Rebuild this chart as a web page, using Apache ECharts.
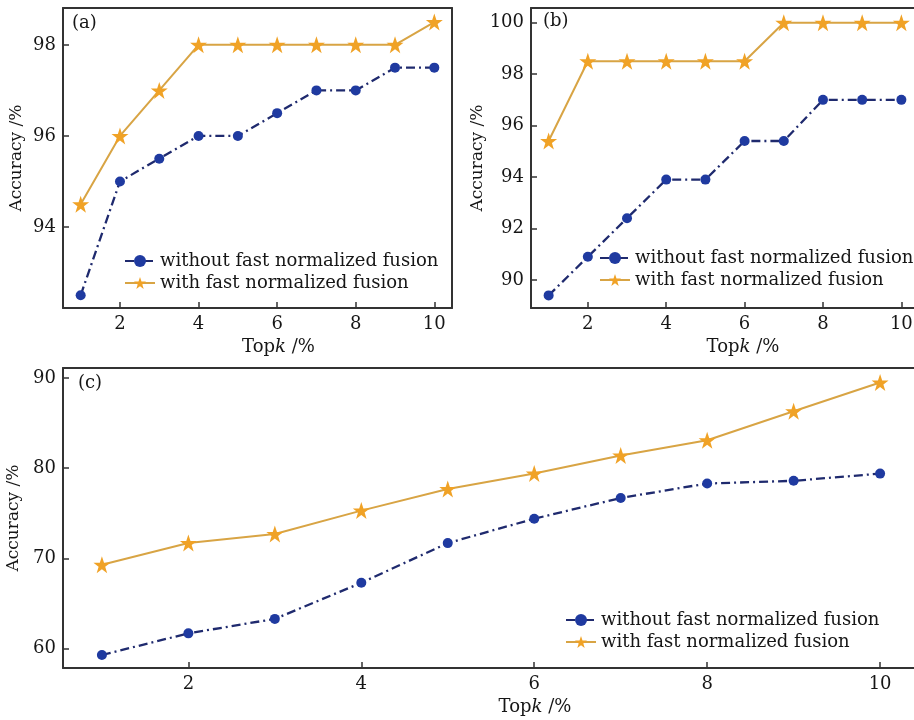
<!DOCTYPE html>
<html>
<head>
<meta charset="utf-8">
<script src="https://cdn.jsdelivr.net/npm/echarts@6/dist/echarts.min.js"></script>
<style>
html,body{margin:0;padding:0;background:#fff;}
#chart{width:914px;height:720px;}
</style>
</head>
<body>
<div id="chart"></div>
<script>
// Topk 取值
var topK = [1, 2, 3, 4, 5, 6, 7, 8, 9, 10];
var xTicks = [2, 4, 6, 8, 10];

// (a)
var aWithout = [92.5, 95.0, 95.5, 96.0, 96.0, 96.5, 97.0, 97.0, 97.5, 97.5];
var aWith = [94.5, 96.0, 97.0, 98.0, 98.0, 98.0, 98.0, 98.0, 98.0, 98.5];
var aTicks = [94, 96, 98];
// (b)
var bWithout = [89.4, 90.9, 92.4, 93.9, 93.9, 95.4, 95.4, 97.0, 97.0, 97.0];
var bWith = [95.4, 98.5, 98.5, 98.5, 98.5, 98.5, 100, 100, 100, 100];
var bTicks = [90, 92, 94, 96, 98, 100];
// (c)
var cWithout = [59.3, 61.7, 63.3, 67.3, 71.7, 74.4, 76.7, 78.3, 78.6, 79.4];
var cWith = [69.3, 71.7, 72.7, 75.3, 77.7, 79.4, 81.4, 83.1, 86.3, 89.5];
var cTicks = [60, 70, 80, 90];

var nameWithout = 'without fast normalized fusion';
var nameWith = 'with fast normalized fusion';

var font = 'DejaVu Serif';
var txt = '#161616';
var star = 'path://M50,0 L61.8,34.5 L97.6,34.5 L68.5,55.9 L79.4,90.5 L50,69 L20.6,90.5 L31.5,55.9 L2.4,34.5 L38.2,34.5 Z';

var myChart = echarts.init(document.getElementById('chart'));

function pairs(arr) {
    return topK.map(function (k, i) { return [k, arr[i]]; });
}

function xAxisOf(idx, shift) {
    return {
        type: 'value', gridIndex: idx, min: 0.55, max: 10.45,
        name: '{a|Top}{b|k}{a| /%}',
        nameLocation: 'middle', nameGap: 30,
        nameTextStyle: {
            padding: [0, 0, 0, shift],
            rich: {
                a: {fontFamily: font, fontSize: 18, color: txt},
                b: {fontFamily: font, fontSize: 18, color: txt, fontStyle: 'italic'}
            }
        },
        axisLine: {show: true, lineStyle: {color: '#333', width: 2}},
        axisTick: {show: true, inside: true, length: 6, customValues: xTicks, lineStyle: {color: '#333', width: 1.5}},
        axisLabel: {customValues: xTicks, fontFamily: font, fontSize: 18, color: txt, margin: 7},
        splitLine: {show: false}
    };
}

// 顶部边框线
function topAxisOf(idx) {
    return {
        type: 'value', gridIndex: idx, position: 'top', min: 0.55, max: 10.45,
        axisLine: {show: true, lineStyle: {color: '#333', width: 2}},
        axisTick: {show: false}, axisLabel: {show: false}, splitLine: {show: false}
    };
}

function yAxisOf(idx, min, max, ticks) {
    return {
        type: 'value', gridIndex: idx, min: min, max: max,
        name: 'Accuracy /%',
        nameLocation: 'middle', nameGap: 38,
        nameTextStyle: {fontFamily: font, fontSize: 17, color: txt},
        axisLine: {show: true, lineStyle: {color: '#333', width: 2}},
        axisTick: {show: true, inside: true, length: 6, customValues: ticks, lineStyle: {color: '#333', width: 1.5}},
        axisLabel: {customValues: ticks, fontFamily: font, fontSize: 18, color: txt, margin: 7},
        splitLine: {show: false}
    };
}

function rightAxisOf(idx, min, max) {
    return {
        type: 'value', gridIndex: idx, position: 'right', min: min, max: max,
        axisLine: {show: true, lineStyle: {color: '#333', width: 2}},
        axisTick: {show: false}, axisLabel: {show: false}, splitLine: {show: false}
    };
}

function seriesOf(idx, without, withF) {
    return [{
        name: nameWithout, type: 'line', xAxisIndex: idx, yAxisIndex: idx,
        data: pairs(without),
        symbol: 'circle', symbolSize: 10,
        itemStyle: {color: '#1f3aa0'},
        lineStyle: {color: '#1f2a6e', width: 2.3, type: [9, 4, 2, 4]},
        z: 3
    }, {
        name: nameWith, type: 'line', xAxisIndex: idx, yAxisIndex: idx,
        data: pairs(withF),
        symbol: star, symbolSize: 17,
        itemStyle: {color: '#f0a226'},
        lineStyle: {color: '#d8a444', width: 2},
        z: 2
    }];
}

function legendOf(left, top) {
    return {
        orient: 'vertical', left: left, top: top,
        itemWidth: 30, itemHeight: 15, itemGap: 0,
        data: [nameWithout, nameWith],
        textStyle: {fontFamily: font, fontSize: 18, color: txt, lineHeight: 22}
    };
}

var labelStyle = {fontFamily: font, fontSize: 18, fill: txt};

function gridOf(left, top, width) {
    return {left: left, top: top, width: width, height: 300, outerBoundsMode: 'none'};
}

var option = {
    backgroundColor: '#fff',
    animation: false,
    grid: [gridOf(63, 8, 389), gridOf(531, 8, 388), gridOf(63, 368, 856)],
    xAxis: [xAxisOf(0, 42), xAxisOf(1, 36), xAxisOf(2, 88), topAxisOf(0), topAxisOf(1), topAxisOf(2)],
    yAxis: [
        yAxisOf(0, 92.22, 98.81, aTicks),
        yAxisOf(1, 88.91, 100.57, bTicks),
        yAxisOf(2, 57.86, 91.1, cTicks),
        rightAxisOf(0, 92.22, 98.81)
    ],
    legend: [legendOf(119, 245), legendOf(594, 242), legendOf(560, 604)],
    graphic: [
        {type: 'text', left: 72, top: 14, style: Object.assign({text: '(a)'}, labelStyle)},
        {type: 'text', left: 543, top: 12, style: Object.assign({text: '(b)'}, labelStyle)},
        {type: 'text', left: 78, top: 374, style: Object.assign({text: '(c)'}, labelStyle)}
    ],
    series: [].concat(
        seriesOf(0, aWithout, aWith),
        seriesOf(1, bWithout, bWith),
        seriesOf(2, cWithout, cWith)
    )
};

myChart.setOption(option);
</script>
</body>
</html>
